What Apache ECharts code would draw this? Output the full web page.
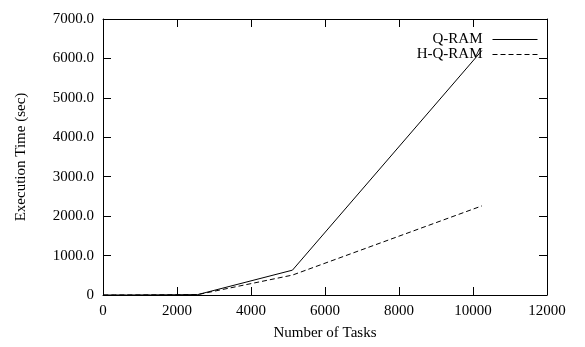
<!DOCTYPE html>
<html>
<head>
<meta charset="utf-8">
<script src="https://cdn.jsdelivr.net/npm/echarts@6/dist/echarts.min.js"></script>
<style>
  html, body {margin: 0; padding: 0; background: #fff;}
  #main {width: 585px; height: 347px;}
</style>
</head>
<body>
<div id="main"></div>
<script>
  const tasks = [10, 20, 40, 80, 160, 320, 640, 1280, 2560, 5120, 10240];
  const qram = [0, 0, 0, 0, 0, 0.5, 1, 3, 10, 630, 6200];
  const hqram = [0, 0, 0, 0, 0, 0.5, 1, 3, 10, 505, 2260];
  const seriesNames = ['Q-RAM', 'H-Q-RAM'];

  const font = 'Liberation Serif, Times New Roman, serif';
  const pairs = (ys) => tasks.map((x, i) => [x, ys[i]]);

  const mirrorAxis = (extra) => Object.assign({
    type: 'value',
    axisLine: {show: true, onZero: false, lineStyle: {color: '#000', width: 1}},
    axisTick: {show: true, inside: true, length: 8, lineStyle: {color: '#000'}},
    axisLabel: {show: false},
    splitLine: {show: false}
  }, extra);

  const chart = echarts.init(document.getElementById('main'));
  chart.setOption({
    animation: false,
    textStyle: {fontFamily: font},
    grid: {left: 103, right: 38, top: 19, bottom: 52},
    legend: {
      orient: 'vertical',
      right: 42,
      top: 27,
      align: 'right',
      itemWidth: 45,
      itemHeight: 10,
      itemGap: 0,
      itemStyle: {opacity: 0},
      lineStyle: {width: 1},
      textStyle: {fontFamily: font, fontSize: 15, color: '#000', padding: [0, 5, 0, 0]},
      data: seriesNames
    },
    xAxis: [
      {
        type: 'value', min: 0, max: 12000, interval: 2000,
        name: 'Number of Tasks', nameLocation: 'middle', nameGap: 31,
        nameTextStyle: {fontFamily: font, fontSize: 15, color: '#000'},
        axisLine: {show: true, onZero: false, lineStyle: {color: '#000', width: 1}},
        axisTick: {show: true, inside: true, length: 8, lineStyle: {color: '#000'}},
        axisLabel: {color: '#000', fontSize: 15, fontFamily: font, margin: 9, formatter: v => String(v)},
        splitLine: {show: false}
      },
      mirrorAxis({position: 'top', min: 0, max: 12000, interval: 2000})
    ],
    yAxis: [
      {
        type: 'value', min: 0, max: 7000, interval: 1000,
        name: 'Execution Time (sec)', nameLocation: 'middle', nameGap: 74,
        nameTextStyle: {fontFamily: font, fontSize: 15, color: '#000'},
        axisLine: {show: true, onZero: false, lineStyle: {color: '#000', width: 1}},
        axisTick: {show: true, inside: true, length: 8, lineStyle: {color: '#000'}},
        axisLabel: {
          color: '#000', fontSize: 15, fontFamily: font, margin: 9,
          formatter: v => v === 0 ? '0' : v.toFixed(1)
        },
        splitLine: {show: false}
      },
      mirrorAxis({position: 'right', min: 0, max: 7000, interval: 1000})
    ],
    series: [
      {
        name: seriesNames[0], type: 'line', showSymbol: false, symbol: 'none',
        data: pairs(qram),
        lineStyle: {color: '#000', width: 1, type: 'solid'},
        itemStyle: {color: '#000'}
      },
      {
        name: seriesNames[1], type: 'line', showSymbol: false, symbol: 'none',
        data: pairs(hqram),
        lineStyle: {color: '#000', width: 1, type: [5, 3]},
        itemStyle: {color: '#000'}
      }
    ]
  });
</script>
</body>
</html>
